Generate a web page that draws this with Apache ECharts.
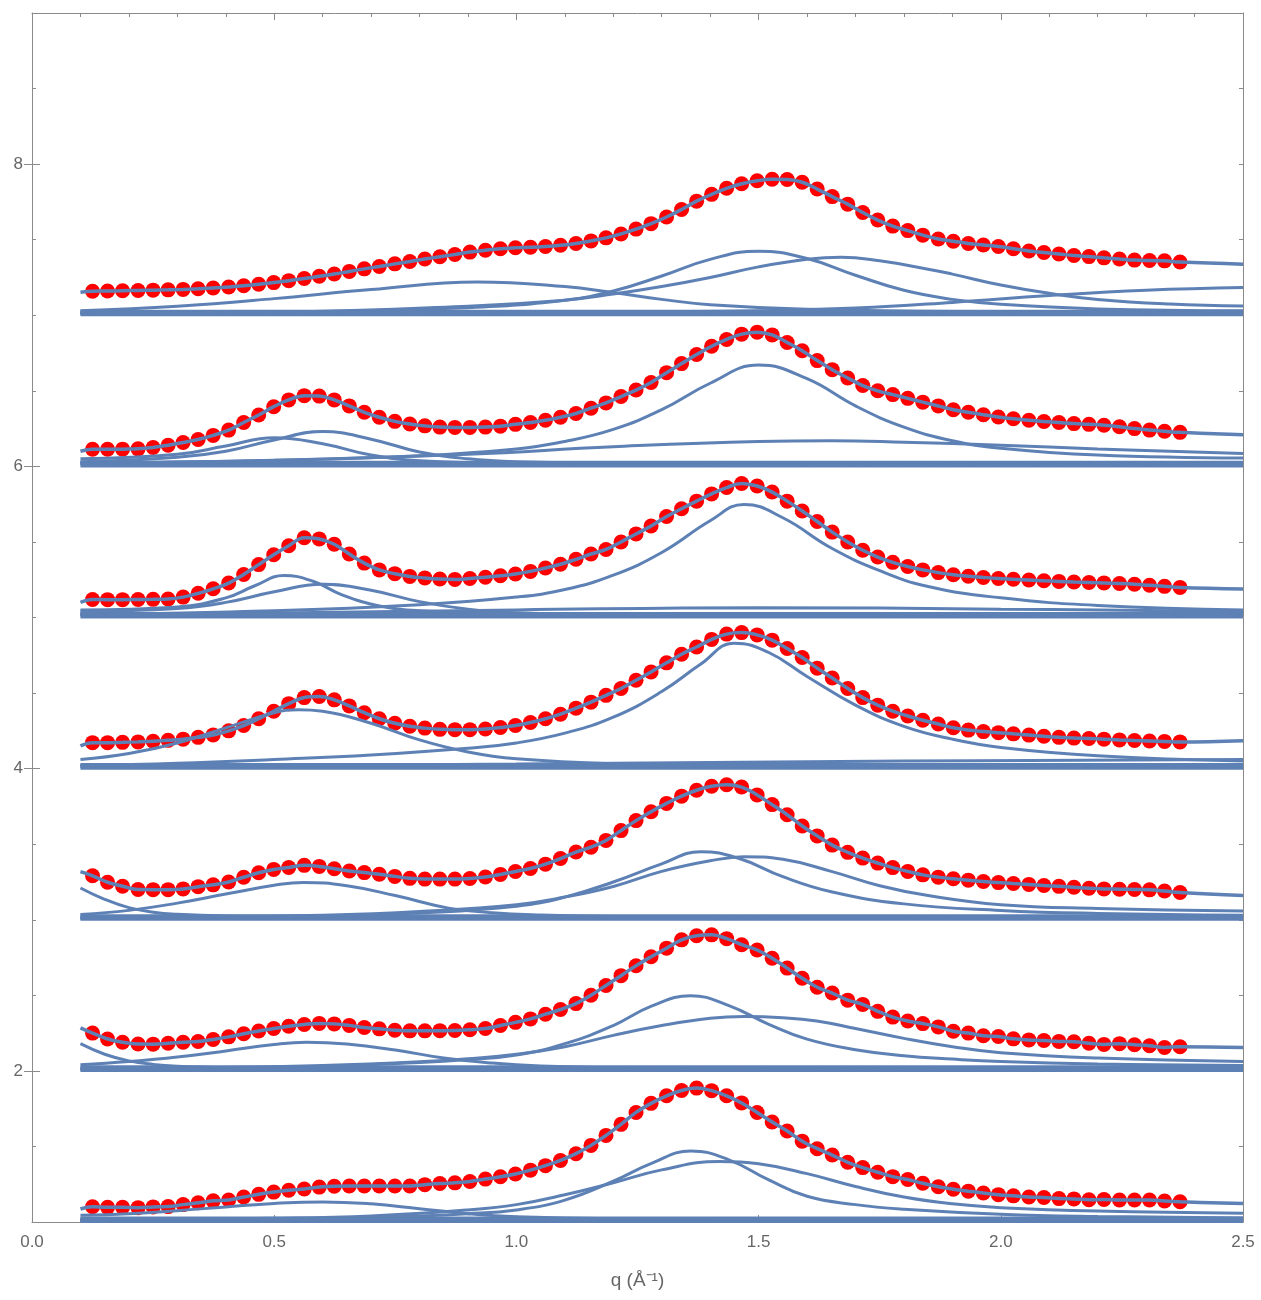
<!DOCTYPE html>
<html><head><meta charset="utf-8">
<script src="https://cdn.jsdelivr.net/npm/echarts@6/dist/echarts.min.js"></script>
<style>html,body{margin:0;padding:0;background:#fff}#c{width:1261px;height:1300px}</style>
</head><body><div id="c"></div>
<script>
// q positions of the measured points (Å^-1)
const qDots = [0.125,0.156,0.187,0.219,0.250,0.281,0.312,0.343,0.374,0.406,0.437,0.468,0.499,0.530,0.562,0.593,0.624,0.655,0.686,0.717,0.749,0.780,0.811,0.842,0.873,0.904,0.936,0.967,0.998,1.029,1.060,1.091,1.123,1.154,1.185,1.216,1.247,1.278,1.310,1.341,1.372,1.403,1.434,1.465,1.497,1.528,1.559,1.590,1.621,1.652,1.684,1.715,1.746,1.777,1.808,1.839,1.871,1.902,1.933,1.964,1.995,2.026,2.058,2.089,2.120,2.151,2.182,2.213,2.245,2.276,2.307,2.338,2.370];

// measured intensities (relative to each curve's offset)
const dots_chi0 = [.101,.097,.097,.095,.100,.102,.115,.127,.140,.146,.165,.183,.198,.210,.218,.231,.237,.238,.238,.238,.238,.238,.247,.255,.259,.268,.284,.299,.318,.343,.373,.407,.452,.507,.573,.646,.725,.785,.835,.870,.886,.869,.835,.788,.725,.662,.602,.535,.485,.443,.395,.360,.329,.300,.281,.256,.233,.217,.204,.192,.181,.173,.165,.162,.155,.153,.147,.149,.146,.146,.146,.139,.134];
const dots_chi33 = [.250,.211,.189,.178,.177,.183,.189,.194,.208,.225,.246,.264,.280,.295,.307,.314,.311,.301,.287,.278,.269,.265,.265,.266,.267,.272,.280,.300,.321,.344,.375,.406,.445,.500,.565,.630,.696,.755,.812,.867,.894,.900,.875,.835,.800,.745,.680,.613,.553,.515,.468,.440,.394,.356,.330,.313,.291,.262,.250,.232,.227,.212,.205,.201,.195,.193,.183,.175,.180,.173,.166,.155,.160];
const dots_chi50 = [.291,.248,.222,.200,.199,.199,.204,.219,.231,.250,.281,.311,.333,.346,.360,.353,.337,.323,.312,.301,.287,.274,.269,.269,.269,.273,.283,.300,.319,.339,.368,.405,.448,.480,.525,.590,.656,.715,.770,.818,.857,.883,.893,.878,.826,.762,.695,.620,.555,.494,.446,.408,.375,.345,.320,.297,.282,.271,.262,.253,.246,.240,.234,.227,.221,.215,.208,.204,.202,.200,.198,.190,.180];
const dots_chi67 = [.172,.172,.174,.177,.181,.187,.195,.207,.223,.250,.285,.330,.380,.430,.470,.477,.455,.415,.370,.330,.300,.280,.268,.260,.258,.258,.262,.272,.285,.305,.330,.360,.400,.440,.485,.530,.585,.640,.700,.757,.805,.855,.890,.900,.885,.850,.795,.735,.665,.600,.530,.470,.420,.380,.348,.320,.295,.270,.255,.245,.238,.230,.222,.214,.207,.202,.199,.195,.190,.186,.183,.180,.177];
const dots_chi75 = [.119,.118,.118,.119,.120,.122,.135,.160,.190,.228,.285,.350,.415,.475,.528,.520,.485,.420,.360,.315,.290,.272,.262,.255,.252,.258,.266,.276,.288,.305,.328,.352,.385,.420,.450,.500,.553,.605,.668,.720,.770,.818,.860,.887,.870,.830,.770,.705,.635,.565,.500,.445,.400,.365,.337,.315,.297,.283,.273,.265,.258,.253,.248,.243,.239,.235,.232,.229,.225,.220,.213,.206,.199];
const dots_chi83 = [.113,.113,.114,.116,.125,.140,.158,.178,.205,.240,.290,.340,.395,.440,.468,.465,.440,.400,.358,.325,.298,.280,.268,.260,.258,.258,.260,.266,.278,.290,.305,.325,.350,.385,.420,.462,.505,.555,.620,.680,.740,.795,.840,.875,.888,.870,.820,.765,.700,.640,.585,.535,.500,.475,.450,.425,.400,.375,.358,.342,.327,.315,.305,.297,.290,.283,.278,.272,.262,.250,.240,.232,.225];
const dots_chi100 = [.159,.160,.162,.164,.166,.168,.171,.175,.180,.187,.195,.205,.216,.229,.243,.258,.273,.290,.307,.323,.340,.356,.372,.387,.402,.418,.430,.440,.447,.450,.455,.463,.475,.492,.512,.538,.570,.606,.650,.700,.755,.800,.840,.870,.890,.900,.898,.880,.835,.785,.735,.680,.630,.590,.560,.530,.505,.490,.475,.465,.455,.440,.425,.415,.405,.395,.388,.380,.372,.365,.362,.360,.352];

// fit curve values at q = 0.1 and q = 2.5
const fitEnds_chi0 = [.086, .122];
const fitEnds_chi33 = [.285, .155];
const fitEnds_chi50 = [.318, .160];
const fitEnds_chi67 = [.150, .185];
const fitEnds_chi75 = [.100, .188];
const fitEnds_chi83 = [.100, .210];
const fitEnds_chi100 = [.152, .338];

// fitted component curves [q, value]
const comps_chi0 = [
  [[0.1,.045],[0.2,.055],[0.3,.075],[0.4,.10],[0.5,.123],[0.6,.133],[0.7,.12],[0.8,.088],[0.9,.055],[1.0,.035],[1.2,.022],[1.6,.018],[2.5,.015]],
  [[0.1,.015],[0.5,.02],[0.7,.03],[0.9,.055],[1.0,.08],[1.1,.145],[1.2,.27],[1.28,.39],[1.36,.47],[1.44,.41],[1.52,.28],[1.6,.17],[1.7,.115],[1.8,.085],[2.0,.052],[2.2,.037],[2.5,.027]],
  [[0.1,.015],[0.5,.025],[0.7,.04],[0.9,.08],[1.0,.115],[1.1,.18],[1.2,.26],[1.3,.345],[1.42,.40],[1.5,.385],[1.6,.32],[1.7,.235],[1.8,.165],[1.9,.12],[2.0,.095],[2.2,.072],[2.5,.058]]
];
const comps_chi33 = [
  [[0.1,.18],[0.15,.11],[0.2,.066],[0.25,.043],[0.3,.031],[0.4,.022],[0.6,.017],[2.5,.012]],
  [[0.1,.04],[0.2,.062],[0.3,.092],[0.4,.132],[0.5,.175],[0.566,.19],[0.65,.178],[0.75,.138],[0.85,.085],[0.95,.052],[1.05,.033],[1.2,.022],[1.6,.016],[2.5,.012]],
  [[0.1,.012],[0.4,.02],[0.6,.03],[0.8,.055],[0.9,.075],[1.0,.105],[1.1,.18],[1.2,.30],[1.28,.43],[1.36,.497],[1.44,.43],[1.52,.31],[1.6,.21],[1.7,.14],[1.8,.10],[1.9,.078],[2.0,.062],[2.2,.046],[2.5,.035]],
  [[0.1,.012],[0.4,.022],[0.6,.035],[0.8,.06],[0.9,.08],[1.0,.11],[1.1,.16],[1.2,.235],[1.3,.30],[1.4,.348],[1.47,.36],[1.55,.352],[1.62,.33],[1.7,.28],[1.8,.215],[1.9,.16],[2.0,.12],[2.2,.085],[2.5,.062]]
];
const comps_chi50 = [
  [[0.1,.21],[0.15,.135],[0.2,.08],[0.25,.05],[0.3,.036],[0.4,.025],[0.6,.02],[2.5,.015]],
  [[0.1,.035],[0.2,.062],[0.3,.11],[0.4,.17],[0.5,.228],[0.56,.247],[0.65,.225],[0.75,.16],[0.86,.077],[0.95,.047],[1.05,.032],[1.2,.022],[1.6,.017],[2.5,.013]],
  [[0.1,.012],[0.4,.018],[0.6,.025],[0.8,.045],[1.0,.09],[1.1,.15],[1.2,.25],[1.3,.37],[1.38,.45],[1.46,.405],[1.55,.285],[1.65,.185],[1.8,.105],[2.0,.062],[2.2,.042],[2.5,.03]],
  [[0.1,.012],[0.4,.022],[0.6,.03],[0.8,.055],[1.0,.10],[1.1,.15],[1.2,.22],[1.3,.32],[1.4,.39],[1.47,.417],[1.55,.40],[1.65,.32],[1.75,.225],[1.85,.16],[2.0,.10],[2.2,.075],[2.5,.058]]
];
const comps_chi67 = [
  [[0.1,.06],[0.2,.10],[0.3,.17],[0.4,.27],[0.5,.37],[0.55,.39],[0.6,.38],[0.7,.30],[0.8,.19],[0.9,.11],[1.0,.065],[1.2,.032],[1.5,.02],[2.5,.015]],
  [[0.1,.02],[0.3,.035],[0.5,.06],[0.7,.09],[0.9,.135],[1.0,.17],[1.1,.235],[1.2,.34],[1.3,.51],[1.38,.69],[1.45,.83],[1.52,.77],[1.6,.61],[1.7,.42],[1.8,.28],[1.9,.195],[2.0,.14],[2.2,.085],[2.5,.05]],
  [[0.1,.015],[1.0,.03],[1.8,.05],[2.5,.06]]
];
const comps_chi75 = [
  [[0.1,.05],[0.3,.07],[0.4,.13],[0.46,.21],[0.52,.278],[0.58,.24],[0.64,.15],[0.72,.075],[0.8,.045],[1.0,.025],[2.5,.015]],
  [[0.1,.04],[0.3,.06],[0.4,.10],[0.5,.17],[0.6,.22],[0.7,.18],[0.8,.105],[0.9,.055],[1.0,.032],[1.2,.02],[2.5,.015]],
  [[0.1,.02],[0.5,.045],[0.8,.085],[1.0,.135],[1.1,.185],[1.2,.28],[1.3,.43],[1.4,.64],[1.47,.748],[1.55,.66],[1.65,.46],[1.75,.31],[1.85,.205],[2.0,.13],[2.2,.08],[2.5,.05]],
  [[0.1,.02],[0.5,.03],[1.0,.05],[1.5,.065],[2.0,.055],[2.5,.04]]
];
const comps_chi83 = [
  [[0.1,.05],[0.3,.08],[0.4,.135],[0.5,.19],[0.6,.15],[0.7,.075],[0.8,.038],[1.0,.022],[2.5,.015]],
  [[0.1,.03],[0.3,.06],[0.4,.10],[0.5,.175],[0.6,.23],[0.7,.18],[0.8,.095],[0.9,.05],[1.0,.03],[1.2,.02],[2.5,.015]],
  [[0.1,.02],[0.5,.04],[0.8,.07],[1.0,.115],[1.1,.165],[1.2,.245],[1.3,.375],[1.4,.55],[1.5,.67],[1.6,.58],[1.7,.40],[1.8,.26],[1.9,.17],[2.0,.12],[2.2,.075],[2.5,.055]],
  [[0.1,.02],[0.5,.04],[0.9,.08],[1.2,.13],[1.5,.165],[1.65,.17],[1.8,.16],[2.0,.14],[2.2,.115],[2.5,.085]]
];
const comps_chi100 = [
  [[0.1,.03],[0.3,.06],[0.5,.11],[0.7,.17],[0.92,.22],[1.1,.19],[1.2,.15],[1.3,.105],[1.4,.07],[1.6,.04],[2.0,.022],[2.5,.015]],
  [[0.1,.012],[0.5,.02],[0.9,.05],[1.1,.10],[1.2,.16],[1.3,.26],[1.4,.37],[1.5,.424],[1.6,.375],[1.7,.265],[1.8,.165],[1.9,.105],[2.0,.072],[2.2,.042],[2.5,.03]],
  [[0.1,.012],[0.5,.02],[0.9,.06],[1.1,.10],[1.2,.14],[1.3,.19],[1.4,.25],[1.5,.32],[1.6,.37],[1.67,.384],[1.75,.36],[1.85,.305],[1.9,.272],[2.0,.20],[2.1,.145],[2.2,.105],[2.35,.075],[2.5,.062]],
  [[0.1,.02],[1.2,.022],[1.5,.03],[1.7,.048],[1.9,.085],[2.1,.13],[2.3,.165],[2.5,.183]]
];

// near-zero background components (flat)
const bandLevels = [0.003, 0.015, 0.027];

const chiLabels = ['chi=0','chi=33','chi=50','chi=67','chi=75','chi=83','chi=100'];
const curveShifts = [1, 2, 3, 4, 5, 6, 7];
const sampleName = 'T6AC2A';

const xTicks = [0, 0.5, 1.0, 1.5, 2.0, 2.5];
const yLabelValues = [2, 4, 6, 8];

// ---------------------------------------------------------------
const BLUE = '#5E81B5';
const RED = '#FF0000';
const FONT = 'Liberation Sans, Arial, sans-serif';

const allDots = [dots_chi0, dots_chi33, dots_chi50, dots_chi67, dots_chi75, dots_chi83, dots_chi100];
const allFitEnds = [fitEnds_chi0, fitEnds_chi33, fitEnds_chi50, fitEnds_chi67, fitEnds_chi75, fitEnds_chi83, fitEnds_chi100];
const allComps = [comps_chi0, comps_chi33, comps_chi50, comps_chi67, comps_chi75, comps_chi83, comps_chi100];

const series = [];
allDots.forEach((d, k) => {
  const s = curveShifts[k];
  bandLevels.forEach(b => {
    series.push({type:'line', data:[[0.1, s + b],[2.5, s + b]], showSymbol:false, symbol:'none',
      lineStyle:{color:BLUE, width:3}, z:3, silent:true});
  });
  allComps[k].forEach(c => {
    series.push({type:'line', data:c.map(p => [p[0], s + p[1]]), smooth:0.45,
      showSymbol:false, symbol:'none', lineStyle:{color:BLUE, width:3}, z:3, silent:true});
  });
  series.push({type:'scatter', data:qDots.map((q, i) => [q, s + d[i]]), symbolSize:15,
    itemStyle:{color:RED, opacity:1}, z:2, silent:true});
  const fe = allFitEnds[k];
  const fitData = [[0.1, s + fe[0]]].concat(qDots.map((q, i) => [q, s + d[i]])).concat([[2.5, s + fe[1]]]);
  series.push({type:'line', data:fitData, smooth:0.4, showSymbol:false, symbol:'none',
    lineStyle:{color:BLUE, width:3.5}, z:4, silent:true});
});

series.push({type:'scatter', symbolSize:1, itemStyle:{opacity:0}, z:5, silent:true,
  data: chiLabels.map((t, k) => [2.2, curveShifts[k] + 0.755, t]),
  label:{show:true, position:'inside', formatter:p => p.data[2], color:RED, fontSize:30, fontFamily:FONT}});
series.push({type:'scatter', symbolSize:1, itemStyle:{opacity:0}, z:5, silent:true,
  data:[[1.5, 8.51, sampleName]],
  label:{show:true, position:'inside', formatter:p => p.data[2], color:RED, fontSize:30, fontFamily:FONT}});

const axisCol = '#8a8a8a';
const xBase = {type:'value', min:0, max:2.5, interval:0.5,
  axisLine:{show:true, onZero:false, lineStyle:{color:axisCol, width:1}},
  axisTick:{show:true, inside:true, length:7, lineStyle:{color:axisCol}},
  minorTick:{show:true, splitNumber:5, length:4, lineStyle:{color:axisCol}},
  splitLine:{show:false}, minorSplitLine:{show:false}};
const yMinor = {type:'value', min:1, max:9, interval:0.5,
  axisLine:{show:true, onZero:false, lineStyle:{color:axisCol, width:1}},
  axisTick:{show:true, inside:true, length:4, lineStyle:{color:axisCol}},
  axisLabel:{show:false}, splitLine:{show:false}};
const yMajor = {type:'value', min:1, max:9,
  axisLine:{show:false},
  axisTick:{show:true, inside:true, length:8, customValues:yLabelValues, lineStyle:{color:axisCol}},
  axisLabel:{show:false}, splitLine:{show:false}};

const option = {
  animation:false,
  backgroundColor:'#fff',
  grid:{left:32, right:18, top:13, bottom:78, containLabel:false},
  xAxis:[
    Object.assign({}, xBase, {position:'bottom',
      axisLabel:{show:true, customValues:xTicks, formatter:v => v.toFixed(1), fontSize:17, color:'#666', margin:12, fontFamily:FONT},
      name:'q (Å⁻¹)', nameLocation:'middle', nameGap:49,
      nameTextStyle:{fontSize:19, color:'#666', fontFamily:FONT}}),
    Object.assign({}, xBase, {position:'top', axisLabel:{show:false}})
  ],
  yAxis:[
    Object.assign({}, yMinor, {position:'left'}),
    Object.assign({}, yMajor, {position:'left',
      axisLabel:{show:true, customValues:yLabelValues, fontSize:17, color:'#666', margin:9, fontFamily:FONT}}),
    Object.assign({}, yMinor, {position:'right'}),
    Object.assign({}, yMajor, {position:'right'})
  ],
  series: series
};

const chart = echarts.init(document.getElementById('c'), null, {renderer:'canvas'});
chart.setOption(option);
</script>
</body></html>
